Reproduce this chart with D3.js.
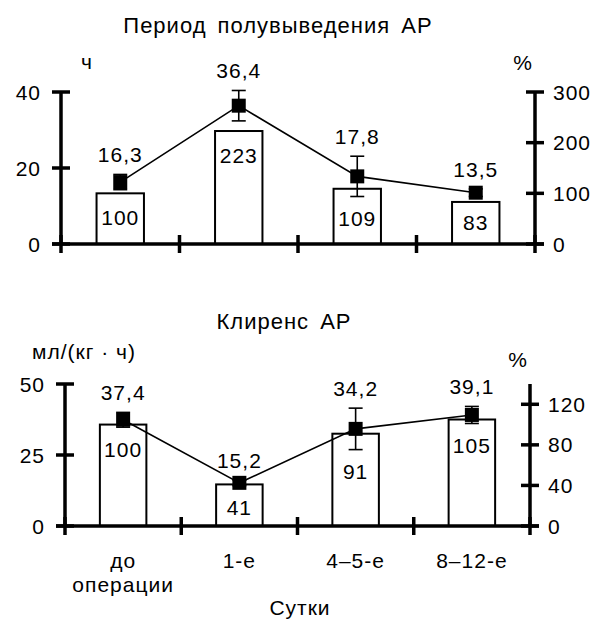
<!DOCTYPE html>
<html>
<head>
<meta charset="utf-8">
<script src="https://cdn.jsdelivr.net/npm/d3@7"></script>
<style>
  body { margin: 0; background: #fff; }
  svg text { font-family: "Liberation Sans", Arial, sans-serif; fill: #000; letter-spacing: 1px; }
</style>
</head>
<body>
<svg id="chart" width="597" height="621"></svg>
<script>
var days = ["до операции", "1-е", "4–5-е", "8–12-е"];

// half-life, hours (left axis) and % of baseline (bars, right axis)
var halfLife = [16.3, 36.4, 17.8, 13.5];
var halfLifeErr = [2.0, 4.0, 5.3, 1.0];
var halfLifePct = [100, 223, 109, 83];

// clearance, ml/(kg*h) and % of baseline
var clearance = [37.4, 15.2, 34.2, 39.1];
var clearanceErr = [2.6, 1.0, 7.3, 3.0];
var clearancePct = [100, 41, 91, 105];

var leftTicksTop = [0, 20, 40];
var rightTicksTop = [0, 100, 200, 300];
var leftTicksBot = [0, 25, 50];
var rightTicksBot = [0, 40, 80, 120];

var svg = d3.select("#chart");
var fmt = function(v) { return String(v).replace(".", ","); };
var FS = 21;

function panel(o) {
    var g = svg.append("g");
    var x = d3.scaleBand().domain(days).range([o.x0, o.x1]);
    var yL = d3.scaleLinear().domain(o.leftDomain).range([o.y0, o.y1]);
    var yR = d3.scaleLinear().domain(o.rightDomain).range([o.y0, o.y1]);
    var data = days.map(function(d, i) {
        return {day: d, v: o.values[i], e: o.errs[i], p: o.pct[i]};
    });
    var cx = function(d) { return x(d.day) + x.bandwidth() / 2; };

    // bars (% scale)
    var bw = x.bandwidth() * 0.4;
    g.selectAll("rect.bar").data(data).enter().append("rect")
        .attr("class", "bar")
        .attr("x", function(d) { return cx(d) - bw / 2; })
        .attr("y", function(d) { return yR(d.p); })
        .attr("width", bw)
        .attr("height", function(d) { return o.y0 - yR(d.p); })
        .attr("fill", "#fff").attr("stroke", "#000").attr("stroke-width", 2);

    // % labels inside bars, kept clear of the error bar
    g.selectAll("text.pct").data(data).enter().append("text")
        .attr("class", "pct")
        .attr("x", cx)
        .attr("y", function(d) {
            var top = yR(d.p), mid = (top + o.y0) / 2;
            var c = Math.min(mid, top + 24);
            c = Math.max(c, yL(d.v - d.e) + 22);
            return c + 7.5;
        })
        .attr("text-anchor", "middle").attr("font-size", FS)
        .text(function(d) { return d.p; });

    // axes: left, right, bottom
    g.append("line").attr("x1", o.x0).attr("x2", o.x0).attr("y1", o.y0).attr("y2", o.y1)
        .attr("stroke", "#000").attr("stroke-width", 3.5);
    g.append("line").attr("x1", o.x1).attr("x2", o.x1).attr("y1", o.y0).attr("y2", o.y1)
        .attr("stroke", "#000").attr("stroke-width", 3.5);
    g.append("line").attr("x1", o.x0 - 9).attr("x2", o.x1 + 9).attr("y1", o.y0).attr("y2", o.y0)
        .attr("stroke", "#000").attr("stroke-width", 3.5);

    g.selectAll("line.lt").data(o.leftTicks).enter().append("line")
        .attr("x1", o.x0 - 9).attr("x2", o.x0 + 9)
        .attr("y1", function(d) { return yL(d); }).attr("y2", function(d) { return yL(d); })
        .attr("stroke", "#000").attr("stroke-width", 3.5);
    g.selectAll("text.lt").data(o.leftTicks).enter().append("text")
        .attr("x", o.x0 - 20).attr("y", function(d) { return yL(d) + 7.5; })
        .attr("text-anchor", "end").attr("font-size", FS)
        .text(function(d) { return d; });

    g.selectAll("line.rt").data(o.rightTicks).enter().append("line")
        .attr("x1", o.x1 - 9).attr("x2", o.x1 + 9)
        .attr("y1", function(d) { return yR(d); }).attr("y2", function(d) { return yR(d); })
        .attr("stroke", "#000").attr("stroke-width", 3.5);
    g.selectAll("text.rt").data(o.rightTicks).enter().append("text")
        .attr("x", o.x1 + 18).attr("y", function(d) { return yR(d) + 7.5; })
        .attr("text-anchor", "start").attr("font-size", FS)
        .text(function(d) { return d; });

    var edges = days.map(function(d) { return x(d); }).concat([o.x1]);
    g.selectAll("line.xt").data(edges).enter().append("line")
        .attr("x1", function(d) { return d; }).attr("x2", function(d) { return d; })
        .attr("y1", o.y0 - 9).attr("y2", o.y0 + 9)
        .attr("stroke", "#000").attr("stroke-width", 3.5);

    // connecting line, error bars, markers
    g.append("path").datum(data)
        .attr("d", d3.line().x(cx).y(function(d) { return yL(d.v); }))
        .attr("fill", "none").attr("stroke", "#000").attr("stroke-width", 1.6);

    var eb = g.selectAll("g.err").data(data).enter().append("g");
    eb.append("line").attr("x1", cx).attr("x2", cx)
        .attr("y1", function(d) { return yL(d.v - d.e); })
        .attr("y2", function(d) { return yL(d.v + d.e); })
        .attr("stroke", "#000").attr("stroke-width", 1.6);
    [-1, 1].forEach(function(s) {
        eb.append("line")
            .attr("x1", function(d) { return cx(d) - 7; })
            .attr("x2", function(d) { return cx(d) + 7; })
            .attr("y1", function(d) { return yL(d.v + s * d.e); })
            .attr("y2", function(d) { return yL(d.v + s * d.e); })
            .attr("stroke", "#000").attr("stroke-width", 1.6);
    });

    g.selectAll("rect.mk").data(data).enter().append("rect")
        .attr("x", function(d) { return cx(d) - 7; })
        .attr("y", function(d) { return yL(d.v) - 7; })
        .attr("width", 14).attr("height", 14).attr("fill", "#000");

    g.selectAll("text.val").data(data).enter().append("text")
        .attr("x", cx)
        .attr("y", function(d) { return yL(d.v + d.e) - 12; })
        .attr("text-anchor", "middle").attr("font-size", FS)
        .text(function(d) { return fmt(d.v); });

    // titles and units
    g.append("text").attr("x", o.titleX).attr("y", o.titleY)
        .attr("text-anchor", "middle").attr("font-size", 22).attr("word-spacing", 4)
        .text(o.title);
    g.append("text").attr("x", o.unitX).attr("y", o.unitY)
        .attr("text-anchor", "middle").attr("font-size", FS)
        .text(o.unit);
    g.append("text").attr("x", o.x1 - 12).attr("y", o.pctY)
        .attr("text-anchor", "middle").attr("font-size", FS)
        .text("%");

    return x;
}

panel({
    x0: 61, x1: 535, y0: 244, y1: 92,
    leftDomain: [0, 40], rightDomain: [0, 300],
    leftTicks: leftTicksTop, rightTicks: rightTicksTop,
    values: halfLife, errs: halfLifeErr, pct: halfLifePct,
    title: "Период полувыведения АР", titleX: 278, titleY: 33,
    unit: "ч", unitX: 87, unitY: 69, pctY: 70
});

var xb = panel({
    x0: 65, x1: 530, y0: 526, y1: 384,
    leftDomain: [0, 50], rightDomain: [0, 140],
    leftTicks: leftTicksBot, rightTicks: rightTicksBot,
    values: clearance, errs: clearanceErr, pct: clearancePct,
    title: "Клиренс АР", titleX: 284, titleY: 329,
    unit: "мл/(кг · ч)", unitX: 84, unitY: 359, pctY: 367
});

// category labels under the lower panel
var lab = svg.selectAll("text.cat").data(days).enter().append("text")
    .attr("class", "cat")
    .attr("x", function(d) { return xb(d) + xb.bandwidth() / 2; })
    .attr("y", 568)
    .attr("text-anchor", "middle").attr("font-size", FS);
lab.each(function(d) {
    var parts = d === "до операции" ? ["до", "операции"] : [d];
    var t = d3.select(this);
    parts.forEach(function(p, i) {
        t.append("tspan").attr("x", t.attr("x")).attr("dy", i ? 24 : 0).text(p);
    });
});

svg.append("text").attr("x", 300).attr("y", 615)
    .attr("text-anchor", "middle").attr("font-size", FS)
    .text("Сутки");
</script>
</body>
</html>
